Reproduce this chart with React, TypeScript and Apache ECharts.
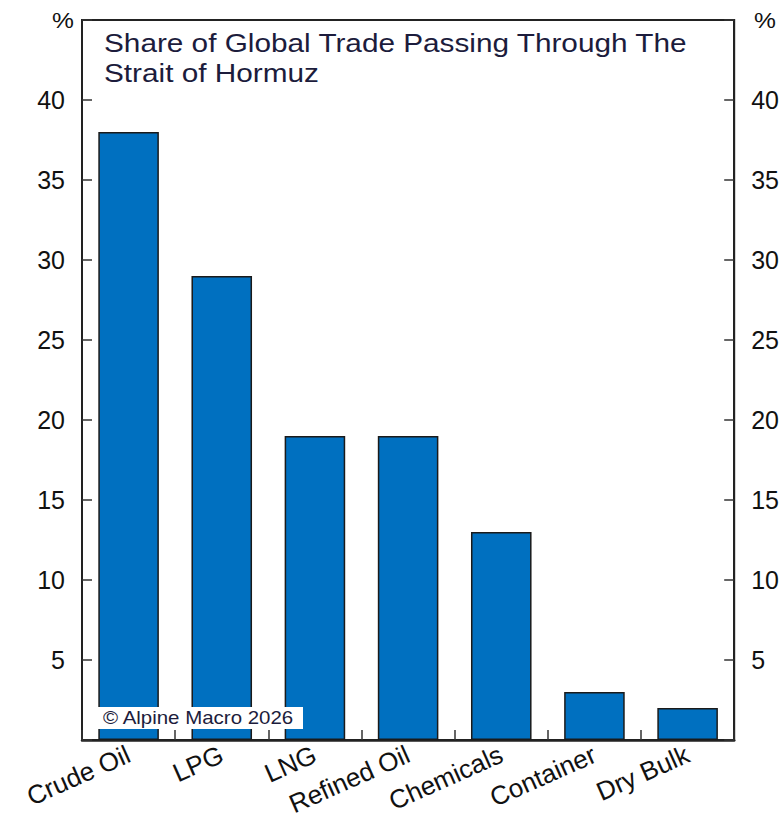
import React, { useEffect, useRef } from "react";
import * as echarts from "echarts";

const categories = ["Crude Oil", "LPG", "LNG", "Refined Oil", "Chemicals", "Container", "Dry Bulk"];
const shares = [38, 29, 19, 19, 13, 3, 2];
const yMin = 0;
const yMax = 45;
const yInterval = 5;
const titleLines = ["Share of Global Trade Passing Through The", "Strait of Hormuz"];
const copyright = "\u00A9 Alpine Macro 2026";
const unitLabel = "%";

const FONT = "'Liberation Sans', Arial, sans-serif";

export default function App() {
  const ref = useRef<HTMLDivElement>(null);
  useEffect(() => {
    if (!ref.current) return;
    const chart = echarts.init(ref.current, undefined, { renderer: "svg" });
    const yLabelFmt = (v: number) => (v === yMin || v === yMax ? "" : String(v));
    const yAxisCommon = {
      type: "value" as const,
      min: yMin,
      max: yMax,
      interval: yInterval,
      splitLine: { show: false },
      axisLine: { show: true, lineStyle: { color: "#222", width: 2 } },
      axisTick: { show: true, inside: true, length: 10, lineStyle: { color: "#333", width: 1.5 } },
      axisLabel: { formatter: yLabelFmt, fontSize: 25, color: "#111", fontFamily: FONT, margin: 17 },
    };
    chart.setOption({
      animation: false,
      backgroundColor: "#ffffff",
      grid: {
        left: 82,
        right: 40,
        top: 20,
        bottom: 86,
        show: true,
        borderColor: "#222",
        borderWidth: 2,
        backgroundColor: "transparent",
      },
      xAxis: {
        type: "category",
        data: categories,
        axisLine: { show: true, lineStyle: { color: "#222", width: 2.5 } },
        axisTick: { show: true, inside: true, length: 10, alignWithLabel: false, lineStyle: { color: "#333", width: 1.5 } },
        axisLabel: {
          rotate: 24,
          fontSize: 26,
          color: "#111",
          fontFamily: FONT,
          margin: 13,
          interval: 0,
        },
      },
      yAxis: [
        { ...yAxisCommon, position: "left" },
        { ...yAxisCommon, position: "right" },
      ],
      series: [
        {
          type: "bar",
          data: shares,
          yAxisIndex: 0,
          barCategoryGap: "35%",
          itemStyle: { color: "#0070C0", borderColor: "#1a1a1a", borderWidth: 1.5 },
        },
      ],
      graphic: [
        {
          type: "text",
          x: 104,
          y: 28,
          scaleX: 1.19,
          z: 100,
          style: {
            text: titleLines.join("\n"),
            fontSize: 25,
            lineHeight: 30,
            fill: "#1c1c3c",
            fontFamily: FONT,
          },
        },
        {
          type: "text",
          x: 52,
          y: 9,
          scaleX: 1.12,
          z: 100,
          style: { text: unitLabel, fontSize: 22, fill: "#111", fontFamily: FONT },
        },
        {
          type: "text",
          x: 754,
          y: 9,
          scaleX: 1.12,
          z: 100,
          style: { text: unitLabel, fontSize: 22, fill: "#111", fontFamily: FONT },
        },
        {
          type: "group",
          x: 97,
          y: 707,
          z: 100,
          children: [
            { type: "rect", z: 100, shape: { x: 0, y: 0, width: 206, height: 22 }, style: { fill: "#ffffff" } },
            {
              type: "text",
              z: 101,
              x: 6,
              y: 2,
              scaleX: 1.17,
              style: { text: copyright, fontSize: 17.5, fill: "#1c1c3c", fontFamily: FONT },
            },
          ],
        },
      ],
    });
    return () => chart.dispose();
  }, []);
  return (
    <div
      ref={ref}
      style={{ position: "absolute", left: 0, top: 0, width: 782, height: 826 }}
    />
  );
}
